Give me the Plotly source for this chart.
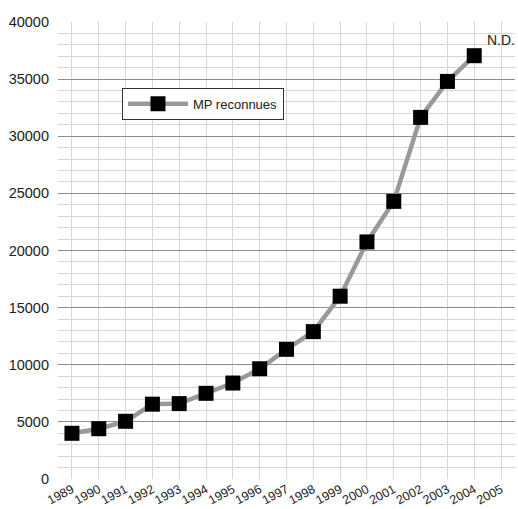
import plotly.graph_objects as go

# Maladies professionnelles reconnues par année (2005 : non disponible)
years = ["1989", "1990", "1991", "1992", "1993", "1994", "1995", "1996", "1997",
         "1998", "1999", "2000", "2001", "2002", "2003", "2004", "2005"]
mp_reconnues = [4000, 4400, 5050, 6550, 6600, 7500, 8400, 9650, 11350,
                12900, 16000, 20750, 24300, 31650, 34800, 37050, None]
y_ticks = [0, 5000, 10000, 15000, 20000, 25000, 30000, 35000, 40000]
nd_label = "N.D."
nd_level = 38400

FONT = "Liberation Sans, Arial, sans-serif"

fig = go.Figure()
fig.add_trace(go.Scatter(
    x=years, y=mp_reconnues, name="MP reconnues",
    mode="lines+markers",
    line=dict(color="#999999", width=4.5),
    marker=dict(symbol="square", size=15, color="#000000"),
))

# "N.D." placed over the last (missing) year, using its category index
fig.add_annotation(
    x=years.index("2005"), y=nd_level, text=nd_label, showarrow=False,
    xanchor="center", yanchor="middle",
    font=dict(family=FONT, size=14, color="#222"),
)

fig.update_layout(
    width=518, height=509,
    margin=dict(l=58, r=3, t=22, b=30),
    paper_bgcolor="white", plot_bgcolor="white",
    showlegend=True,
    legend=dict(
        x=0.14, y=0.856, xanchor="left", yanchor="top",
        bgcolor="white", bordercolor="#333333", borderwidth=1,
        font=dict(family=FONT, size=13, color="#222"),
        itemwidth=60,
    ),
)

fig.update_xaxes(
    type="category", categoryorder="array", categoryarray=years,
    range=[-0.52, 16.52],
    tickangle=-28, tickfont=dict(family=FONT, size=12.5, color="#222"),
    showgrid=True, gridcolor="#d6d6d6", gridwidth=1,
    showline=False, ticks="", zeroline=False,
    automargin=False,
)

fig.update_yaxes(
    range=[0, 40000], tickvals=y_ticks, ticktext=[str(v) for v in y_ticks],
    tickfont=dict(family=FONT, size=14.5, color="#222"), ticks="", ticklabelstandoff=8,
    showgrid=True, gridcolor="#8c8c8c", gridwidth=1,
    minor=dict(dtick=1000, showgrid=True, gridcolor="#d6d6d6", gridwidth=1),
    zeroline=False, showline=False, automargin=False,
)

fig.write_html("out.html")
